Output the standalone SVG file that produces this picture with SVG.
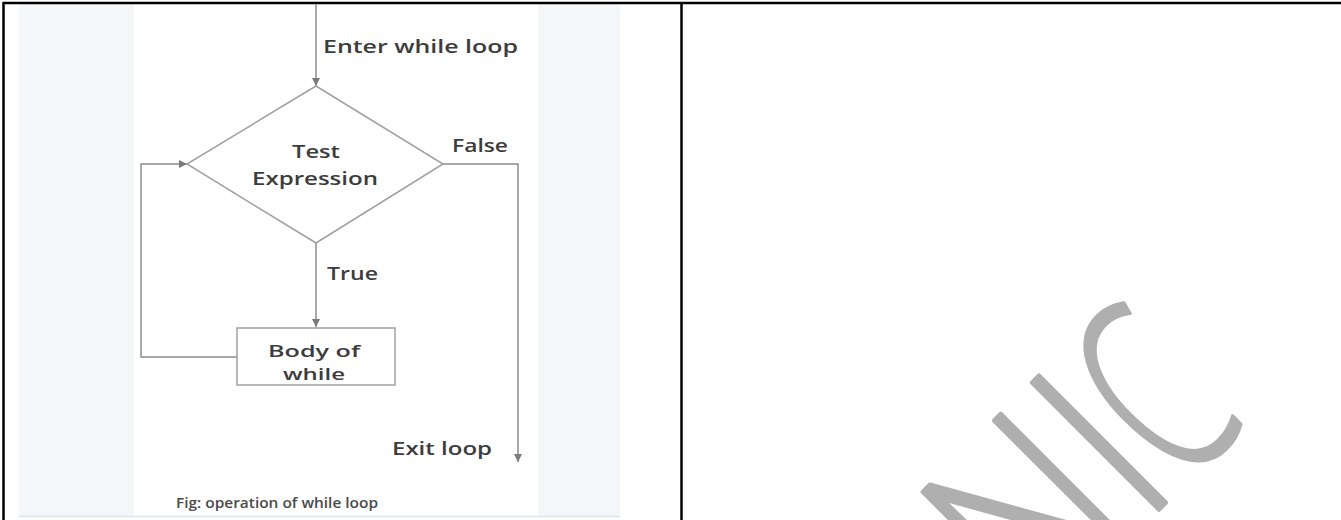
<svg xmlns="http://www.w3.org/2000/svg" width="1341" height="520" viewBox="0 0 1341 520">
<defs>
<marker id="ah" viewBox="0 0 10 10" refX="10" refY="5" markerWidth="8" markerHeight="8" markerUnits="userSpaceOnUse" orient="auto">
<path d="M0,0 L10,5 L0,10 z" fill="#7a7a7a"/>
</marker>
<style>
.lbl{font-family:"Open Sans","Liberation Sans",sans-serif;font-weight:600;fill:#3c3c3c;font-size:18px}
.body{font-size:17px}
.cap{font-family:"Open Sans","Liberation Sans",sans-serif;font-weight:600;fill:#4a4a4a;font-size:14px}
.ln{fill:none;stroke:#8c8c8c;stroke-width:1.5}
.shape{fill:#ffffff;stroke:#a0a0a0;stroke-width:1.5}
.wm{font-family:"Open Sans","Liberation Sans",sans-serif;font-weight:300;fill:#afafaf;stroke:#afafaf;stroke-width:4;stroke-linejoin:round;font-size:252px}
.border{stroke:#000;stroke-width:2.5;fill:none}
</style>
</defs>
<rect width="1341" height="520" fill="#ffffff"/>
<g id="figure-bg">
<rect x="19" y="4" width="601" height="513" fill="#f4f6f9"/>
<rect x="134" y="4" width="404" height="512" fill="#ffffff"/>
<line x1="19" y1="516.5" x2="620" y2="516.5" stroke="#dbe3ee" stroke-width="1.5"/>
</g>
<g id="watermark" transform="rotate(-45)">
<text class="wm" transform="translate(360 1180) scale(0.85 1)" text-anchor="middle">N</text>
<text class="wm" transform="translate(464 1180) scale(0.85 1)" text-anchor="middle">I</text>
<text class="wm" transform="translate(537 1182) scale(0.62 1)" text-anchor="middle">C</text>
</g>
<g id="table">
<line class="border" x1="3" y1="3" x2="1341" y2="3"/>
<line class="border" x1="3.5" y1="2" x2="3.5" y2="520"/>
<line class="border" x1="681.5" y1="2" x2="681.5" y2="520"/>
</g>
<g id="connectors">
<line class="ln" x1="316" y1="4" x2="316" y2="86" marker-end="url(#ah)"/>
<line class="ln" x1="316" y1="243" x2="316" y2="327" marker-end="url(#ah)"/>
<polyline class="ln" points="443,164 518,164 518,462" marker-end="url(#ah)"/>
<polyline class="ln" points="237,357 141,357 141,164 187,164" marker-end="url(#ah)"/>
</g>
<g id="test-expression">
<polygon class="shape" points="316,86 443,164 316,243 187,164"/>
<text class="lbl" x="316" y="158" text-anchor="middle" textLength="48" lengthAdjust="spacingAndGlyphs">Test</text>
<text class="lbl" x="315" y="185" text-anchor="middle" textLength="126" lengthAdjust="spacingAndGlyphs">Expression</text>
</g>
<g id="body-of-while">
<rect class="shape" x="237" y="328" width="158" height="57"/>
<text class="lbl body" x="314" y="357" text-anchor="middle" textLength="92" lengthAdjust="spacingAndGlyphs">Body of</text>
<text class="lbl body" x="314" y="380" text-anchor="middle" textLength="62" lengthAdjust="spacingAndGlyphs">while</text>
</g>
<g id="labels">
<text class="lbl" x="323" y="53" textLength="195" lengthAdjust="spacingAndGlyphs">Enter while loop</text>
<text class="lbl" x="452" y="152" textLength="56" lengthAdjust="spacingAndGlyphs">False</text>
<text class="lbl" x="327" y="280" textLength="51" lengthAdjust="spacingAndGlyphs">True</text>
<text class="lbl" x="392" y="455" textLength="100" lengthAdjust="spacingAndGlyphs">Exit loop</text>
<text class="cap" x="176" y="508" textLength="202" lengthAdjust="spacingAndGlyphs">Fig: operation of while loop</text>
</g>
</svg>
